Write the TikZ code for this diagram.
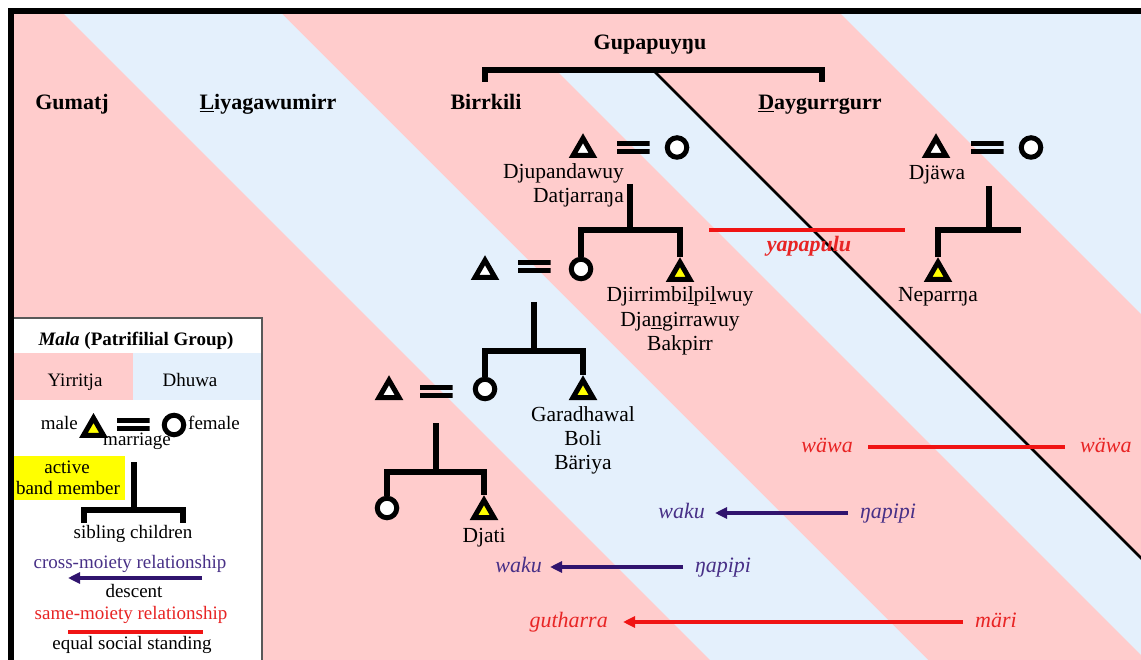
\documentclass[tikz,border=0pt]{standalone}
\usepackage{fontspec}
\setmainfont{Liberation Serif}
\usetikzlibrary{shapes.geometric,arrows.meta}
\definecolor{pinkbg}{RGB}{255,204,204}
\definecolor{bluebg}{RGB}{228,240,252}
\definecolor{ylw}{RGB}{255,255,0}
\definecolor{purp}{RGB}{48,20,110}
\definecolor{purptext}{RGB}{72,48,135}
\definecolor{redl}{RGB}{240,20,20}
\definecolor{redt}{RGB}{232,36,36}
\begin{document}
\begin{tikzpicture}[x=1pt,y=-1pt,
  male/.style={regular polygon, regular polygon sides=3, draw=black, line width=5pt, fill=white, minimum size=23pt, inner sep=0pt},
  malea/.style={male, fill=ylw},
  female/.style={circle, draw=black, line width=5pt, fill=white, minimum size=19.5pt, inner sep=0pt},
  eqsign/.style={rectangle, minimum width=33pt, minimum height=13pt, inner sep=0pt,
    path picture={\fill[black] (path picture bounding box.north west) rectangle ([yshift=-5pt]path picture bounding box.north east);
                  \fill[black] ([yshift=5pt]path picture bounding box.south west) rectangle (path picture bounding box.south east);}},
  tree/.style={line width=6pt, line join=miter, draw=black},
  head/.style={font=\fontsize{22}{26}\selectfont\bfseries, inner sep=0pt},
  lab/.style={font=\fontsize{21.5}{24.5}\selectfont, inner sep=0pt},
  leg/.style={font=\fontsize{19}{23}\selectfont, inner sep=0pt},
  rel/.style={font=\fontsize{22}{26}\selectfont\itshape, inner sep=0pt},
  redline/.style={draw=redl, line width=4.5pt},
  parr/.style={draw=purp, line width=4.5pt, -{Triangle[length=12pt,width=11pt]}},
  rarr/.style={draw=redl, line width=4.5pt, -{Triangle[length=12pt,width=11pt]}}
]
\useasboundingbox (0,0) rectangle (1141,660);
% background stripes
\begin{scope}
\clip (14,14) rectangle (1141,660);
\fill[pinkbg] (14,14) rectangle (1141,660);
\fill[bluebg] (50,0) -- (268,0) -- (968,700) -- (750,700) -- cycle;
\fill[bluebg] (556,70) -- (653,70) -- (1283,700) -- (1186,700) -- cycle;
\fill[bluebg] (827,0) -- (1300,0) -- (1300,473) -- cycle;
\end{scope}
% frame
\fill[black] (8,8) rectangle (1141,14);
\fill[black] (8,8) rectangle (14,660);

% headings
\node[head, anchor=base] (gumatj) at (72,110) {Gumatj};
\node[head, anchor=base] (liya) at (268,110) {\underline{L}iyagawumirr};
\node[head, anchor=base] (birr) at (486,110) {Birrkili};
\node[head, anchor=base] (gupa) at (650,50) {Gupapuyŋu};
\node[head, anchor=base] (dayg) at (820,110) {\underline{D}aygurrgurr};

% Gupapuyngu bracket and division line
\coordinate (gbl) at (484.5,82);
\coordinate (gbr) at (821.5,82);
\coordinate (gdiv) at (653,70);
\coordinate (gdivend) at (1230,647);
\draw[line width=2.5pt] (gdiv) -- (gdivend);
\draw[tree] (gbl) |- (gdiv) -| (gbr);

% generation 1: Birrkili
\node[male] (h1) at (583,149.75) {};
\node[eqsign] (m1) at (633,148) {};
\node[female] (w1) at (677,147.5) {};
\node[lab, anchor=base east] (djup) at (624,179) {Djupandawuy};
\node[lab, anchor=base east] (datj) at (624,203) {Datjarraŋa};
\coordinate (s1) at (630,184);
\coordinate (j1) at (630,230);
\node[female] (d1) at (581,269) {};
\node[malea] (son1) at (680,273.75) {};
\draw[tree] (s1) -- (j1);
\draw[tree] (d1.north) |- (j1) -| (son1.north);
\node[lab, anchor=base] (djir) at (680,302) {Djirrimbi\underline{l}pi\underline{l}wuy};
\node[lab, anchor=base] (djan) at (680,327) {Dja\underline{n}girrawuy};
\node[lab, anchor=base] (bakp) at (680,351) {Bakpirr};

% generation 1: Daygurrgurr
\node[male] (h2) at (936,149.75) {};
\node[eqsign] (m2) at (987,148) {};
\node[female] (w2) at (1031,147.5) {};
\node[lab, anchor=base] (djaw) at (937,180) {Djäwa};
\coordinate (s2) at (989,186);
\coordinate (j2) at (989,230);
\coordinate (j2r) at (1021,230);
\node[malea] (son2) at (938,273.75) {};
\draw[tree] (s2) -- (j2);
\draw[tree] (son2.north) |- (j2r);
\node[lab, anchor=base] (nepa) at (938,302) {Neparrŋa};

% yapapulu
\coordinate (ya1) at (709,230);
\coordinate (ya2) at (905,230);
\draw[redline] (ya1) -- (ya2);
\node[rel, font=\fontsize{22}{26}\selectfont\bfseries\itshape, text=redt, anchor=base] (yapa) at (809,252) {yapapulu};

% generation 2
\node[male] (h3) at (485,271.75) {};
\node[eqsign] (m3) at (534,267) {};
\coordinate (s3) at (534,302);
\coordinate (j3) at (534,351);
\node[female] (d3) at (485,389) {};
\node[malea] (son3) at (583,391.75) {};
\draw[tree] (s3) -- (j3);
\draw[tree] (d3.north) |- (j3) -| (son3.north);
\node[lab, anchor=base] (gara) at (583,421) {Garadhawal};
\node[lab, anchor=base] (boli) at (583,445) {Boli};
\node[lab, anchor=base] (bari) at (583,469) {Bäriya};

% generation 3
\node[male] (h4) at (389,391.75) {};
\node[eqsign] (m4) at (436,391) {};
\coordinate (s4) at (436,423);
\coordinate (j4) at (436,472);
\node[female] (d4) at (387,508) {};
\node[malea] (son4) at (484,511.75) {};
\draw[tree] (s4) -- (j4);
\draw[tree] (d4.north) |- (j4) -| (son4.north);
\node[lab, anchor=base] (djat) at (484,542) {Djati};

% relationship terms
\node[rel, text=redt, anchor=base east] (wawa1) at (853,452) {wäwa};
\node[rel, text=redt, anchor=base west] (wawa2) at (1080,452) {wäwa};
\draw[redline] ([xshift=15pt,yshift=5pt]wawa1.base east) -- ([xshift=-15pt,yshift=5pt]wawa2.base west);

\node[rel, text=purptext, anchor=base east] (waku1) at (705,518) {waku};
\node[rel, text=purptext, anchor=base west] (ngap1) at (860,518) {ŋapipi};
\draw[parr] ([xshift=-12pt,yshift=5pt]ngap1.base west) -- ([xshift=10pt,yshift=5pt]waku1.base east);

\node[rel, text=purptext, anchor=base east] (waku2) at (542,572) {waku};
\node[rel, text=purptext, anchor=base west] (ngap2) at (695,572) {ŋapipi};
\draw[parr] ([xshift=-12pt,yshift=5pt]ngap2.base west) -- ([xshift=8pt,yshift=5pt]waku2.base east);

\node[rel, text=redt, anchor=base east] (guth) at (608,627) {gutharra};
\node[rel, text=redt, anchor=base west] (mari) at (975,627) {märi};
\draw[rarr] ([xshift=-12pt,yshift=5pt]mari.base west) -- ([xshift=15pt,yshift=5pt]guth.base east);

% legend
\fill[white] (14,318) rectangle (262,660);
\fill[pinkbg] (14,353) rectangle (133,400);
\fill[bluebg] (133,353) rectangle (262,400);
\draw[black!65, line width=1.3pt] (14,318) -- (262,318) -- (262,660);
\node[leg, anchor=base] (mala) at (136,346) {\textbf{\textit{Mala}} \textbf{(Patrifilial Group)}};
\node[leg, anchor=base] (yirr) at (75,386) {Yirritja};
\node[leg, anchor=base] (dhuw) at (190,386) {Dhuwa};
\node[leg, anchor=base east] (lmale) at (78,429) {male};
\node[malea] (lm) at (93.5,429.5) {};
\node[eqsign] (leq) at (133,424) {};
\node[female] (lf) at (174,425) {};
\node[leg, anchor=base west] (lfemale) at (188,429) {female};
\node[leg, anchor=base] (lmarr) at (137,445) {marriage};
\fill[ylw] (14,456) rectangle (125,500);
\node[leg, anchor=base] (lact) at (67,473) {active};
\node[leg, anchor=base] (lband) at (68,494) {band member};
\coordinate (ls) at (134,462);
\coordinate (lj) at (134,510);
\coordinate (lc1) at (84,523);
\coordinate (lc2) at (183,523);
\draw[tree] (ls) -- (lj);
\draw[tree] (lc1) |- (lj) -| (lc2);
\node[leg, anchor=base] (lsib) at (133,538) {sibling children};
\node[leg, text=purptext, anchor=base] (lcross) at (130,568) {cross-moiety relationship};
\coordinate (la1) at (202,578);
\coordinate (la2) at (68,578);
\draw[parr] (la1) -- (la2);
\node[leg, anchor=base] (ldesc) at (134,597) {descent};
\node[leg, text=redt, anchor=base] (lsame) at (131,619) {same-moiety relationship};
\coordinate (lr1) at (68,632);
\coordinate (lr2) at (203,632);
\draw[redline] (lr1) -- (lr2);
\node[leg, anchor=base] (lequal) at (132,649) {equal social standing};
\end{tikzpicture}
\end{document}
